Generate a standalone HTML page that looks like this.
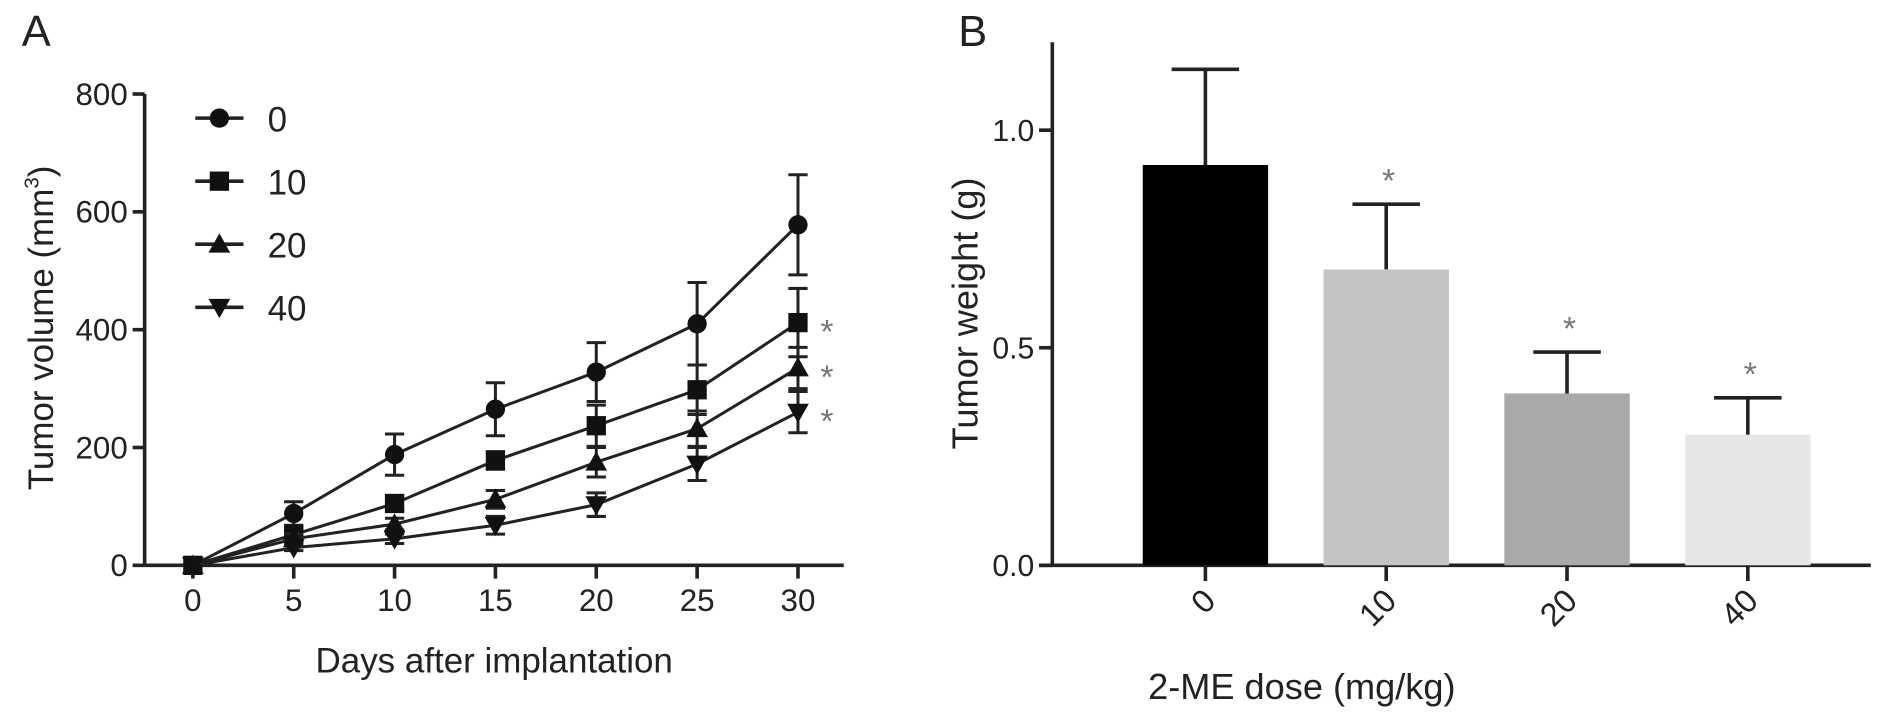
<!DOCTYPE html>
<html><head><meta charset="utf-8"><style>
body{margin:0;background:#fff}
svg{display:block;font-family:"Liberation Sans",Arial,sans-serif}
</style></head><body>
<svg id="c" width="1890" height="717" xmlns="http://www.w3.org/2000/svg">
<g transform="scale(1.2054)">
<text x="18" y="38" font-size="36" fill="#222">A</text>
<text x="795" y="38" font-size="36" fill="#222">B</text>
<g id="A"></g>
<g id="B"></g>
</g>
</svg>
<script>
const days=[0,5,10,15,20,25,30];
const groups=["0","10","20","40"];
const vol0=[0,88,188,265,328,410,578];
const err0=[0,20,35,45,50,70,85];
const vol10=[0,52,105,178,237,298,412];
const err10=[0,10,12,15,35,42,58];
const vol20=[0,45,70,112,175,232,335];
const err20=[0,8,10,15,25,30,35];
const vol40=[0,30,45,68,103,172,260];
const err40=[0,5,8,15,20,28,35];
const yTicksA=[0,200,400,600,800];
const doses=["0","10","20","40"];
const weights=[0.92,0.68,0.395,0.30];
const wErr=[0.22,0.15,0.095,0.085];
const yTicksB=["0.0","0.5","1.0"];

const NS="http://www.w3.org/2000/svg";
function el(p,t,a){const e=document.createElementNS(NS,t);for(const k in a)e.setAttribute(k,a[k]);p.appendChild(e);return e;}
const A=document.getElementById('A'),B=document.getElementById('B');
const xA=d=>160+d*(502/30), yA=v=>469-v*(391/800);
let e;
e=el(A,'line',{x1:120,y1:78,x2:120,y2:469,stroke:'#222','stroke-width':3});

e=el(A,'line',{x1:120,y1:469,x2:700,y2:469,stroke:'#222','stroke-width':3});

yTicksA.forEach(v=>{el(A,'line',{x1:110,y1:yA(v),x2:120,y2:yA(v),stroke:'#222','stroke-width':3});
 e=el(A,'text',{x:106,y:yA(v)+9,'font-size':26,'text-anchor':'end',fill:'#222'});e.textContent=v;
 });
days.forEach(d=>{el(A,'line',{x1:xA(d),y1:469,x2:xA(d),y2:480,stroke:'#222','stroke-width':3});
 e=el(A,'text',{x:xA(d),y:507,'font-size':26,'text-anchor':'middle',fill:'#222'});e.textContent=d;
 });
e=el(A,'text',{x:410,y:558,'font-size':29,'text-anchor':'middle',fill:'#222'});e.textContent='Days after implantation';

e=el(A,'text',{transform:'translate(44,272) rotate(-90)','font-size':29,'text-anchor':'middle',fill:'#222'});
e.innerHTML='Tumor volume (mm<tspan font-size="17" dy="-12">3</tspan><tspan dy="12">)</tspan>';

function marker(g,type,x,y){
 if(type==0)return el(g,'circle',{cx:x,cy:y,r:8,fill:'#111'});
 if(type==1)return el(g,'rect',{x:x-8,y:y-8,width:16,height:16,fill:'#111'});
 if(type==2)return el(g,'path',{d:`M${x} ${y-9}L${x+9} ${y+7}L${x-9} ${y+7}Z`,fill:'#111'});
 return el(g,'path',{d:`M${x} ${y+9}L${x+9} ${y-7}L${x-9} ${y-7}Z`,fill:'#111'});
}
const series=[[vol0,err0],[vol10,err10],[vol20,err20],[vol40,err40]];
series.forEach(([v,er],i)=>{
 const g=el(A,'g',{});
 el(g,'polyline',{points:v.map((y,j)=>xA(days[j])+','+yA(y)).join(' '),fill:'none',stroke:'#222','stroke-width':2.5});
 v.forEach((y,j)=>{const x=xA(days[j]);
  if(er[j]>0){el(g,'path',{d:`M${x} ${yA(y-er[j])}V${yA(y+er[j])}M${x-8} ${yA(y+er[j])}h16M${x-8} ${yA(y-er[j])}h16`,stroke:'#222','stroke-width':2.5,fill:'none'});}
  const m=marker(g,i,x,yA(y));});
 const ly=98+i*52.3;
 const lg=el(A,'g',{});
 el(lg,'line',{x1:162,y1:ly,x2:202,y2:ly,stroke:'#222','stroke-width':3});marker(lg,i,182,ly);
 const t=el(lg,'text',{x:222,y:ly+11,'font-size':29,fill:'#222'});t.textContent=groups[i];
 if(i>0){const s=el(A,'text',{x:686,y:yA(v[6])+17,'font-size':28,'text-anchor':'middle',fill:'#777'});s.textContent='*';
  }
});
// Panel B
const yB=v=>469-v*361, xB=i=>1000+i*150;
e=el(B,'line',{x1:873,y1:35,x2:873,y2:469,stroke:'#222','stroke-width':3});

e=el(B,'line',{x1:862,y1:469,x2:1552,y2:469,stroke:'#222','stroke-width':3});

yTicksB.forEach(s=>{const v=parseFloat(s);el(B,'line',{x1:862,y1:yB(v),x2:873,y2:yB(v),stroke:'#222','stroke-width':3});
 e=el(B,'text',{x:858,y:yB(v)+9,'font-size':25,'text-anchor':'end',fill:'#222'});e.textContent=s;
 });
const cols=['#000','#c4c4c4','#a9a9a9','#e6e6e6'];
weights.forEach((w,i)=>{const x=xB(i);
 el(B,'path',{d:`M${x} ${yB(w)}V${yB(w+wErr[i])}M${x-28} ${yB(w+wErr[i])}h56`,stroke:'#222','stroke-width':3,fill:'none'});
 e=el(B,'rect',{x:x-52,y:yB(w),width:104,height:469-yB(w),fill:cols[i]});
 
 el(B,'line',{x1:x,y1:469,x2:x,y2:482,stroke:'#222','stroke-width':3});
 e=el(B,'text',{transform:`translate(${x+10},${500}) rotate(-45)`,'font-size':27,'text-anchor':'end',fill:'#222'});e.textContent=doses[i];
 
 if(i>0){const s=el(B,'text',{x:x+2,y:yB(w+wErr[i])-10,'font-size':28,'text-anchor':'middle',fill:'#777'});s.textContent='*';
  }
});
e=el(B,'text',{x:1080,y:580,'font-size':30,'text-anchor':'middle',fill:'#222'});e.textContent='2-ME dose (mg/kg)';

e=el(B,'text',{transform:'translate(811,260) rotate(-90)','font-size':30,'text-anchor':'middle',fill:'#222'});e.textContent='Tumor weight (g)';

</script>
</body></html>
